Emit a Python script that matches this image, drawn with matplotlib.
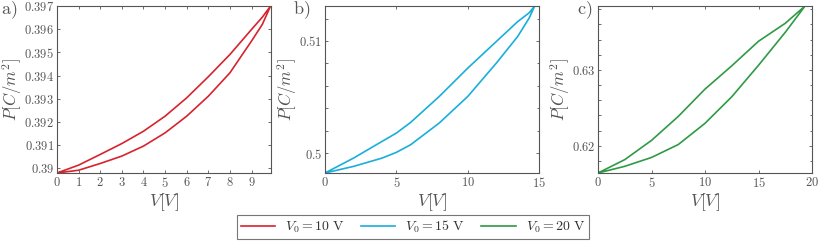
"""Polarisation loops P(V) for three drive amplitudes."""
import matplotlib
matplotlib.use("Agg")
import matplotlib.pyplot as plt
from matplotlib.ticker import FuncFormatter, MultipleLocator

plt.rcParams["mathtext.fontset"] = "cm"
plt.rcParams["font.family"] = ["DejaVu Serif"]

# V0 = 10 V
v_a = [0, 1, 2, 3, 4, 5, 6, 7, 8, 9, 9.5, 9.88]
p_a_up = [0.38980, 0.39014, 0.39060, 0.39107, 0.39160, 0.39225, 0.39304,
          0.39395, 0.39491, 0.39599, 0.39652, 0.39700]
p_a_lo = [0.38980, 0.38992, 0.39021, 0.39053, 0.39096, 0.39153, 0.39225,
          0.39311, 0.39412, 0.39549, 0.39621, 0.39700]

# V0 = 15 V
v_b = [0, 2, 4, 5, 6, 8, 10, 12, 13.5, 14.3, 14.7]
p_b_up = [0.49822, 0.49955, 0.50104, 0.50178, 0.50273, 0.50504, 0.50757,
          0.50994, 0.51172, 0.51250, 0.51312]
p_b_lo = [0.49822, 0.49881, 0.49955, 0.50006, 0.50074, 0.50267, 0.50504,
          0.50801, 0.51039, 0.51202, 0.51312]

# V0 = 20 V
v_c = [0, 2.5, 5, 7.5, 10, 12.5, 15, 17.5, 19.35]
p_c_up = [0.61640, 0.61816, 0.62070, 0.62386, 0.62746, 0.63053, 0.63377,
          0.63614, 0.63842]
p_c_lo = [0.61640, 0.61728, 0.61845, 0.62015, 0.62295, 0.62645, 0.63060,
          0.63495, 0.63842]

labels = ["$V_0 = 10\\ \\mathrm{V}$", "$V_0 = 15\\ \\mathrm{V}$", "$V_0 = 20\\ \\mathrm{V}$"]
colors = ["#d7232d", "#1aaedb", "#2f9a45"]
letters = ["a)", "b)", "c)"]

GREY = "#555555"


def tex_fmt(v, _pos):
    return f"${v:g}$"


def main() -> None:
    fig = plt.figure(figsize=(8.23, 2.43), dpi=100)
    lefts = [57 / 823, 325 / 823, 598 / 823]
    width = 214 / 823
    bottom = 1 - 173 / 243
    height = 167 / 243

    panels = [(v_a, p_a_up, p_a_lo), (v_b, p_b_up, p_b_lo), (v_c, p_c_up, p_c_lo)]
    handles = []
    for i, (v, up, lo) in enumerate(panels):
        ax = fig.add_axes([lefts[i], bottom, width, height])
        xs = list(v) + list(v[::-1])
        ys = list(lo) + list(up[::-1])
        (ln,) = ax.plot(xs, ys, color=colors[i], lw=1.2, label=labels[i])
        handles.append(ln)
        ax.set_ylim(min(lo), max(up))

        ax.tick_params(which="both", direction="in", top=True, right=True,
                       colors=GREY, labelsize=9, length=2.5, width=0.6, pad=2)
        ax.tick_params(which="minor", length=1.8)
        for s in ax.spines.values():
            s.set_color(GREY)
            s.set_linewidth(0.8)
        ax.xaxis.set_major_formatter(FuncFormatter(tex_fmt))
        ax.yaxis.set_major_formatter(FuncFormatter(tex_fmt))
        ax.set_xlabel("$V[V]$", fontsize=12.5, color=GREY, labelpad=1)
        ax.set_ylabel("$P[C/m^2]$", fontsize=12, color=GREY, labelpad=0)

        if i == 0:
            ax.set_xlim(0, 9.9)
            ax.xaxis.set_major_locator(MultipleLocator(1))
            ax.yaxis.set_major_locator(MultipleLocator(0.001))
        elif i == 1:
            ax.set_xlim(0, 15)
            ax.xaxis.set_major_locator(MultipleLocator(5))
            ax.yaxis.set_major_locator(MultipleLocator(0.01))
            ax.yaxis.set_minor_locator(MultipleLocator(0.002))
        else:
            ax.set_xlim(0, 20)
            ax.xaxis.set_major_locator(MultipleLocator(5))
            ax.yaxis.set_major_locator(MultipleLocator(0.01))
            ax.yaxis.set_minor_locator(MultipleLocator(0.002))

    letter_x = [1 / 823, 293 / 823, 577 / 823]
    for x, t in zip(letter_x, letters):
        fig.text(x, 1 - 10 / 243, f"$\\mathrm{{{t}}}$", fontsize=13, color=GREY,
                 va="center", ha="left")

    leg = fig.legend(handles=handles, loc="center", bbox_to_anchor=(413 / 823, 1 - 227 / 243),
                     ncol=3, fontsize=10, frameon=True, fancybox=False, handlelength=2.45,
                     columnspacing=1.2, handletextpad=0.72, borderpad=0.25,
                     borderaxespad=0, labelcolor="#333333")
    leg.get_frame().set_edgecolor(GREY)
    leg.get_frame().set_linewidth(0.8)

    fig.savefig("out.png", dpi=100)
    plt.close(fig)


if __name__ == "__main__":
    main()
